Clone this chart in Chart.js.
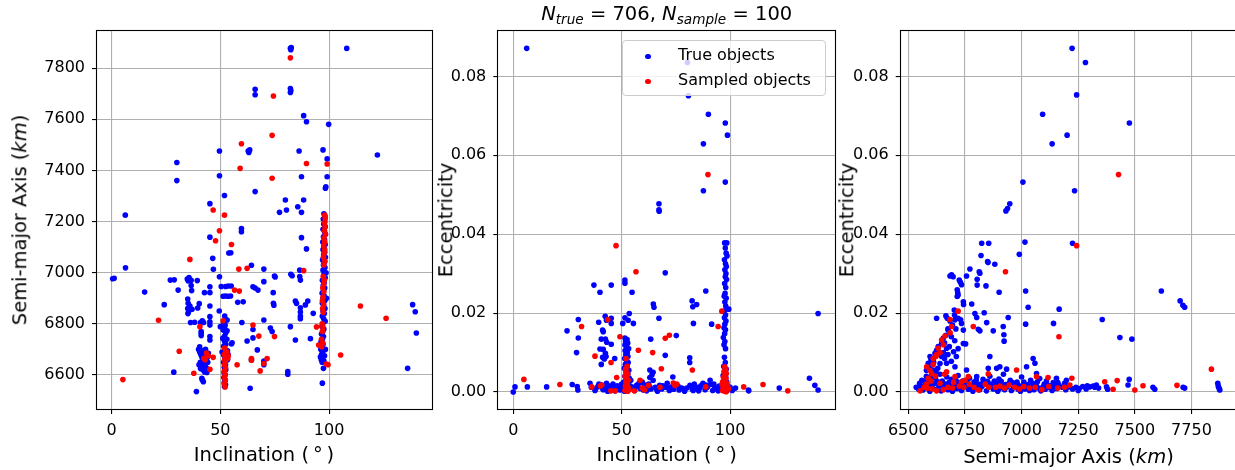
<!DOCTYPE html>
<html>
<head>
<meta charset="utf-8">
<script src="https://cdn.jsdelivr.net/npm/chart.js@4.4.1/dist/chart.umd.min.js"></script>
<style>
html, body { margin: 0; padding: 0; background: #fff; overflow: hidden; width: 1235px; height: 470px; }
body { position: relative; font-family: "DejaVu Sans", sans-serif; color: #000; }
canvas { position: absolute; top: 0; }
.lbl { position: absolute; white-space: nowrap; line-height: 1; font-size: 19.5px; transform: translate(-50%, -50%); }
.rot { transform: translate(-50%, -50%) rotate(-90deg); }
sub { font-size: 0.7em; vertical-align: -0.25em; line-height: 0; }
#legend { position: absolute; left: 622px; top: 40px; width: 204px; height: 56px; box-sizing: border-box;
  background: rgba(255,255,255,0.8); border: 1px solid #cccccc; border-radius: 4px; }
.ldot { position: absolute; width: 5.5px; height: 5.5px; border-radius: 50%; }
.ltxt { position: absolute; left: 55px; font-size: 16px; line-height: 1; transform: translateY(-50%); white-space: nowrap; }
</style>
</head>
<body>
<canvas id="c1" width="440" height="470" style="left:0"></canvas>
<canvas id="c2" width="400" height="470" style="left:440px"></canvas>
<canvas id="c3" width="400" height="470" style="left:840px"></canvas>

<div class="lbl" style="left:666.7px; top:13.5px;"><i>N</i><sub><i>true</i></sub> = 706, <i>N</i><sub><i>sample</i></sub> = 100</div>
<div class="lbl" style="left:264px; top:454.5px;">Inclination (&thinsp;&deg;&thinsp;)</div>
<div class="lbl" style="left:666.7px; top:454.5px;">Inclination (&thinsp;&deg;&thinsp;)</div>
<div class="lbl" style="left:1068.5px; top:456.5px;">Semi-major Axis (<i>km</i>)</div>
<div class="lbl rot" style="left:19.5px; top:220px;">Semi-major Axis (<i>km</i>)</div>
<div class="lbl rot" style="left:446px; top:220px;">Eccentricity</div>
<div class="lbl rot" style="left:847px; top:220px;">Eccentricity</div>
<div id="legend"></div>

<script>
// series
const seriesNames = ['True objects', 'Sampled objects'];
const seriesColors = ['#0000ff', '#ff0000'];

// tick labels
const incTicks = [0, 50, 100];
const semiTicks = [6600, 6800, 7000, 7200, 7400, 7600, 7800];
const semiTicksX = [6500, 6750, 7000, 7250, 7500, 7750];
const eccTicks = [0, 0.02, 0.04, 0.06, 0.08];

// panel 1: inclination (deg) vs semi-major axis (km)
const incSemiTrue = [
  [0.5,6976],[1.2,6978],[6.3,7225],[6.4,7019],[15.2,6924],[24.2,6875],[27.0,6971],[28.8,6972],[28.6,6611],[30.0,7431],[30.0,7360],[30.6,6932],
  [34.8,6975],[35.2,6968],[35.6,6981],[36.6,6970],[36.6,6950],[36.8,6930],[39.4,6969],
  [35.0,6897],[35.2,6880],[35.0,6860],[35.4,6847],[35.1,6840],[36.0,6870],[37.0,6857],[39.6,6862],[40.3,6879],
  [36.3,6805],[38.2,6806],[40.9,6805],[41.7,6812],[42.3,6805],[42.7,6922],
  [45.2,6945],[45.2,6922],[45.2,6870],[45.2,6828],[45.2,6808],[45.2,6795],[46.5,7056],[46.8,7013],[45.2,7139],[45.2,7270],
  [39.0,6535],[41.5,6587],[42.2,6574],[41.7,6580],[40.0,6700],[40.5,6690],[41.0,6680],[41.5,6670],[42.0,6660],[40.8,6650],
  [42.5,6645],[43.0,6640],[41.5,6630],[42.0,6620],[43.5,6655],[44.0,6668],[40.5,6710],[41.2,6770],[41.2,6763],[41.2,6754],
  [45.2,6750],[45.2,6737],[43.2,6700],[42.8,6612],[43.5,6628],[44.5,6685],[40.2,6640],[41.8,6695],[43.8,6610],[42.6,6685],
  [40.9,6625],[44.2,6650],
  [52.0,6830],[52.5,6815],[51.5,6805],[52.2,6795],[52.0,6785],[51.8,6775],[52.5,6765],[52.0,6752],[51.5,6745],[53.0,6740],
  [52.0,6730],[52.5,6720],[51.5,6712],[52.2,6700],[53.3,6695],[52.0,6688],[51.5,6678],[52.8,6670],[52.0,6660],[51.5,6650],
  [52.4,6640],[51.8,6630],[52.5,6620],[51.7,6610],[52.2,6600],[51.6,6590],[52.3,6580],[51.8,6570],[52.4,6562],[51.9,6555],
  [53.3,6660],[53.6,6680],[50.8,6690],
  [49.6,7476],[49.6,7379],[51.9,7302],[49.6,6984],[50.4,6946],[52.4,6946],[53.6,6948],[55.0,6948],[51.3,6908],[52.4,6909],
  [53.5,6908],[54.7,6909],[53.9,7077],[54.8,7078],[49.5,6850],[50.0,6789],[51.3,6776],[51.1,6743],[53.1,6815],[53.1,6773],
  [55.1,6721],[55.4,6726],
  [59.7,7173],[59.7,7160],[59.9,6805],[58.0,6884],[60.5,6886],[62.3,6733],[63.1,7470],[63.5,7480],[62.8,7476],[64.3,7029],
  [65.0,6945],[66.0,6940],[67.3,6932],[65.0,6778],[65.0,6745],[64.3,6659],[63.7,6548],[66.0,7717],[66.0,7696],[66.0,7317],
  [70.0,7014],[70.0,6965],[70.0,6815],[67.0,6698],[70.0,6654],[70.0,6640],[73.0,6784],[73.8,6770],[74.9,6987],[75.2,6983],
  [74.3,6922],[74.4,6880],[74.6,6873],
  [82.2,7877],[82.4,7872],[82.6,7880],[82.2,7720],[82.4,7712],[82.2,7705],[88.3,7614],[89.6,7590],[99.8,7580],[86.2,7476],
  [97.2,7480],[99.1,7445],[99.1,7375],[87.3,7375],[98.3,7330],[98.5,7336],[79.9,7284],[88.3,7284],[77.2,7236],[80.4,7245],
  [85.6,7258],[87.3,7236],[108.1,7877],[122.2,7460],[87.3,7137],[89.6,7093],[82.4,6994],[83.0,6988],[86.5,7010],[86.5,6985],
  [86.8,6971],[82.2,6789],[81.0,6613],[81.0,6603],[84.5,6889],[85.0,6880],[84.5,6737],[86.8,6863],[86.8,6846],[86.8,6830],
  [86.8,6820],[89.1,6874],[90.2,6889],[92.7,6841],[91.4,6742],[96.9,6568],[97.4,6626],[138.4,6875],[139.6,6847],[140.1,6764],
  [136.1,6626],
  [97.6,7230],[98.1,7220],[97.3,7210],[98.0,7200],[97.5,7190],[98.2,7180],[97.2,7170],[97.9,7160],[98.3,7150],[97.4,7140],
  [97.9,7130],[97.1,7120],[98.2,7110],[97.6,7100],[97.2,7090],[98.0,7080],[97.5,7070],[98.3,7060],[97.0,7050],[97.8,7040],
  [97.4,7030],[98.1,7020],[97.2,7010],[97.9,7000],[97.5,6990],[98.2,6980],[96.9,6970],[97.7,6960],[97.3,6950],[98.0,6940],
  [97.4,6930],[96.8,6920],[97.7,6910],[97.2,6900],[98.0,6890],[96.9,6880],[97.5,6870],[98.1,6860],[97.2,6850],[97.8,6840],
  [96.9,6830],[97.5,6820],[98.2,6810],[97.1,6800],[96.7,6790],[97.6,6780],[97.1,6770],[96.5,6760],[97.4,6750],[96.9,6740],
  [96.3,6730],[97.2,6720],[96.7,6710],[96.2,6700],[97.1,6690],[96.5,6680],[96.0,6670],[96.9,6665],[96.4,6660],[97.6,6655],
  [96.8,6650],[97.9,6675],[98.3,6700],[98.6,7000],[98.8,6900]
];
const incSemiSampled = [
  [82.2,7840],[74.4,7691],[73.8,7537],[59.7,7504],[59.1,7408],[73.8,7369],[89.6,7427],[99.1,7425],[46.7,7245],[51.9,7225],
  [49.6,7164],[47.8,7125],[55.1,7110],[36.0,7052],[58.5,7014],[62.3,7017],[88.3,7008],[56.5,6932],[58.7,6928],[5.2,6582],
  [21.6,6814],[31.1,6693],[37.8,6607],[40.6,6789],[43.6,6686],[44.5,6675],[45.2,6622],[46.7,6669],[51.3,6812],[57.7,6640],
  [64.3,6664],[64.3,6658],[65.0,6795],[67.7,6752],[68.3,6616],[71.5,6664],[70.0,6645],[74.9,6750],[94.2,6788],[95.2,6717],
  [98.8,6643],[99.5,6640],[105.3,6678],[114.4,6870],[126.2,6822],[43.0,6660],[42.5,6665],
  [98.0,7225],[98.2,7212],[97.9,7195],[98.1,7180],[97.8,7165],[98.3,7150],[97.6,7135],[98.0,7120],[97.5,7105],[98.0,7090],
  [97.7,7075],[97.4,7060],[98.1,7045],[97.6,7030],[97.3,6985],[97.8,6970],[97.5,6955],[97.1,6940],[97.6,6925],[97.2,6905],
  [96.9,6890],[97.5,6875],[97.0,6860],[97.3,6845],[96.8,6800],[97.2,6785],[96.9,6770],[96.5,6740],[97.1,6725],[96.6,6710],
  [52.0,6705],[52.5,6690],[51.8,6680],[52.6,6670],[52.0,6660],[53.4,6665],[53.6,6675],[52.3,6650],[51.9,6640],[52.4,6628],
  [51.8,6615],[52.2,6602],[51.9,6590],[52.3,6578],[51.8,6566],[52.2,6553],[53.0,6690]
];

// panel 2: inclination (deg) vs eccentricity
const incEccTrue = [
  [6.2,0.0871],[80.3,0.0835],[80.8,0.0751],[90.0,0.0704],[97.8,0.0682],[98.8,0.0651],[87.7,0.0629],[97.8,0.0532],[87.7,0.0510],
  [67.2,0.0477],[67.2,0.0462],[67.3,0.0458],
  [24.8,0.0155],[30.0,0.0184],[30.0,0.0137],[29.2,0.0100],[37.2,0.0271],[40.0,0.0253],[45.2,0.0271],[39.4,0.0177],[42.4,0.0192],
  [43.0,0.0182],[45.2,0.0187],[45.2,0.0174],[41.2,0.0157],[41.5,0.0153],[40.6,0.0134],[42.5,0.0134],[43.1,0.0126],[45.2,0.0121],
  [40.0,0.0109],[41.5,0.0108],[42.5,0.0098],[42.8,0.0090],[41.2,0.0088],[42.0,0.0084],[40.6,0.0070],[46.8,0.0085],[51.5,0.0284],
  [51.5,0.0276],[54.8,0.0253],[53.5,0.0199],[51.5,0.0188],[53.0,0.0182],[55.4,0.0174],[50.5,0.0174],[64.6,0.0223],[64.9,0.0215],
  [67.2,0.0187],[70.1,0.0302],[63.4,0.0134],[70.1,0.0093],[75.2,0.0143],[63.0,0.0056],[64.5,0.0050],[64.0,0.0044],[63.0,0.0037],
  [73.6,0.0038],[82.5,0.0231],[82.8,0.0216],[84.6,0.0222],[83.1,0.0174],[88.8,0.0256],[91.5,0.0172],[81.4,0.0087],[81.4,0.0075],
  [99.4,0.0210],[140.6,0.0199],[136.6,0.0035],[139.1,0.0017],[140.6,0.0005],[122.7,0.0010],[108.6,0.0003],[90.8,0.0030],
  [0.0,0.0000],[0.8,0.0013],[6.5,0.0013],[15.4,0.0013],[27.2,0.0019],[29.5,0.0014],[29.8,0.0005],[35.4,0.0022],[36.0,0.0012],
  [37.7,0.0004],[39.0,0.0014],[40.8,0.0018],[41.5,0.0006],[42.5,0.0010],[43.5,0.0002],[44.0,0.0016],[45.0,0.0008],[46.2,0.0012],
  [47.0,0.0003],[48.0,0.0016],[49.2,0.0005],[50.0,0.0020],[55.0,0.0012],[56.0,0.0004],[57.0,0.0018],[58.5,0.0009],[59.5,0.0025],
  [60.5,0.0014],[61.5,0.0003],[62.5,0.0020],[63.5,0.0008],[64.5,0.0030],[65.5,0.0012],[66.5,0.0002],[67.5,0.0017],[68.5,0.0008],
  [70.0,0.0012],[71.0,0.0022],[72.0,0.0004],[73.1,0.0013],[74.0,0.0007],[75.0,0.0019],[76.5,0.0005],[77.7,0.0010],[79.0,0.0002],
  [81.5,0.0017],[82.5,0.0008],[83.5,0.0020],[84.5,0.0012],[85.5,0.0003],[86.5,0.0016],[87.5,0.0022],[88.5,0.0006],[89.5,0.0012],
  [91.0,0.0019],[92.0,0.0004],[93.0,0.0012],[94.0,0.0008],[95.0,0.0015],[100.0,0.0012],[101.0,0.0004],[102.5,0.0010],[108.5,0.0005],
  [38.0,0.0008],[39.5,0.0020],[41.0,0.0010],[43.0,0.0022],[44.5,0.0004],[46.0,0.0020],[48.5,0.0010],[56.5,0.0014],[58.0,0.0022],
  [60.0,0.0005],[61.0,0.0018],[63.0,0.0012],[66.0,0.0008],[69.0,0.0016],[71.5,0.0010],[76.0,0.0015],[80.0,0.0010],[83.0,0.0004],
  [86.0,0.0010],[89.0,0.0018],[92.5,0.0020],[94.5,0.0003],
  [51.5,0.0137],[52.5,0.0133],[51.8,0.0128],[52.8,0.0124],[51.5,0.0119],[52.4,0.0114],[53.2,0.0110],[51.6,0.0105],[52.6,0.0100],
  [51.9,0.0095],[52.9,0.0090],[51.4,0.0085],[52.3,0.0080],[53.0,0.0075],[51.7,0.0070],[52.5,0.0065],[51.2,0.0060],[53.3,0.0055],
  [52.0,0.0050],[52.8,0.0045],[51.5,0.0040],[53.5,0.0035],[52.2,0.0030],[51.0,0.0025],[53.1,0.0020],[52.4,0.0015],[51.6,0.0010],
  [53.6,0.0008],[52.5,0.0004],[51.3,0.0002],[54.0,0.0015],[50.6,0.0012],[54.2,0.0030],
  [97.5,0.0378],[98.5,0.0378],[97.8,0.0365],[98.2,0.0352],[98.6,0.0345],[97.4,0.0335],[97.9,0.0325],[98.3,0.0318],[97.6,0.0310],
  [98.1,0.0300],[97.8,0.0292],[98.4,0.0285],[97.5,0.0275],[98.0,0.0265],[97.7,0.0250],[97.3,0.0243],[98.2,0.0238],[97.6,0.0228],
  [98.0,0.0218],[97.5,0.0206],[97.9,0.0195],[97.4,0.0188],[98.1,0.0180],[97.6,0.0172],[97.2,0.0163],[97.9,0.0158],[97.5,0.0148],
  [96.9,0.0138],[97.6,0.0128],[97.2,0.0120],[97.9,0.0110],[97.4,0.0088],[97.8,0.0075],[97.1,0.0065],[98.2,0.0058],[97.5,0.0050],
  [96.8,0.0042],[98.0,0.0038],[97.3,0.0030],[98.5,0.0025],[96.6,0.0020],[97.8,0.0015],[99.0,0.0010],[96.2,0.0008],[98.7,0.0004],
  [99.5,0.0012]
];
const incEccSampled = [
  [4.9,0.0032],[21.5,0.0019],[31.5,0.0166],[37.7,0.0091],[43.6,0.0184],[45.1,0.0075],[47.4,0.0371],[49.2,0.0140],[56.6,0.0305],
  [57.7,0.0106],[64.3,0.0100],[68.3,0.0059],[70.1,0.0136],[72.0,0.0144],[82.6,0.0056],[94.5,0.0166],[96.2,0.0205],[106.3,0.0013],
  [115.2,0.0019],[126.6,0.0003],[89.8,0.0551],[47.7,0.0037],[36.2,0.0013],[40.8,0.0018],[45.0,0.0003],[47.0,0.0003],[58.5,0.0030],
  [59.5,0.0010],[60.5,0.0005],[62.3,0.0017],[67.7,0.0012],[73.8,0.0023],[74.5,0.0017],[75.4,0.0020],[88.8,0.0013],[40.2,0.0015],
  [55.8,0.0003],
  [52.0,0.0085],[52.5,0.0065],[51.8,0.0058],[52.3,0.0050],[52.8,0.0045],[51.6,0.0040],[52.4,0.0034],[53.0,0.0030],[52.0,0.0025],
  [52.6,0.0020],[51.7,0.0015],[53.0,0.0012],[52.2,0.0008],[51.5,0.0004],[52.8,0.0002],[53.4,0.0006],
  [97.5,0.0064],[98.0,0.0058],[97.2,0.0052],[98.3,0.0047],[97.6,0.0042],[96.9,0.0038],[98.1,0.0034],[97.4,0.0030],[96.6,0.0026],
  [98.4,0.0022],[97.7,0.0019],[96.8,0.0015],[97.9,0.0012],[97.2,0.0009],[98.6,0.0006],[96.5,0.0004],[97.6,0.0002],[98.2,0.0001],
  [96.9,0.0011],[98.8,0.0016],[99.3,0.0008],[96.3,0.0020]
];

// panel 3: semi-major axis (km) vs eccentricity
const semiEccTrue = [
  [7223,0.0871],[7282,0.0835],[7243,0.0753],[7093,0.0704],[7476,0.0682],[7201,0.0651],[7135,0.0629],[7006,0.0532],[7234,0.0510],
  [6948,0.0477],[6938,0.0465],[6931,0.0459],
  [6824,0.0377],[6855,0.0377],[7015,0.0380],[7225,0.0377],[6990,0.0349],[6821,0.0346],[6850,0.0331],[6852,0.0328],[6882,0.0324],
  [6772,0.0312],[6684,0.0294],[6691,0.0297],[6698,0.0292],[6813,0.0305],[6816,0.0301],[6757,0.0294],[6804,0.0286],[6804,0.0271],
  [6843,0.0269],[6725,0.0284],[6730,0.0278],[6735,0.0272],[6716,0.0259],[6718,0.0252],[6720,0.0246],[6716,0.0242],[6901,0.0253],
  [7018,0.0256],[7617,0.0256],[6743,0.0229],[6744,0.0222],[6780,0.0223],[7029,0.0215],[7166,0.0210],[7700,0.0231],[7712,0.0220],
  [7720,0.0215],[6625,0.0187],[6666,0.0193],[6672,0.0187],[6684,0.0180],[6703,0.0208],[6704,0.0195],[6706,0.0183],[6720,0.0187],
  [6731,0.0183],[6794,0.0199],[6802,0.0189],[6835,0.0201],[6846,0.0176],[6941,0.0189],[6919,0.0166],[6922,0.0145],[6923,0.0129],
  [7018,0.0172],[7141,0.0174],[7356,0.0184],[7434,0.0138],[7487,0.0134],[6809,0.0159],[6816,0.0155],[6875,0.0155],[6743,0.0123],
  [6753,0.0122],
  [6735,0.0174],[6743,0.0157],[6676,0.0157],[6666,0.0144],[6654,0.0136],[6647,0.0123],[6632,0.0115],[6625,0.0106],[6618,0.0098],
  [6596,0.0090],[6588,0.0073],[6610,0.0081],[6647,0.0090],[6662,0.0094],[6669,0.0111],[6681,0.0115],[6610,0.0056],[6603,0.0039],
  [6622,0.0051],[6669,0.0073],[6706,0.0064],[6757,0.0056],[6802,0.0039],[6860,0.0090],[6853,0.0060],[6890,0.0060],[6904,0.0064],
  [6934,0.0058],[7022,0.0064],[7051,0.0085],[7059,0.0073],[7066,0.0047],[7154,0.0035],[7198,0.0030],
  [6580,0.0055],[6595,0.0065],[6600,0.0082],[6612,0.0075],[6630,0.0060],[6640,0.0072],[6655,0.0100],[6660,0.0085],[6675,0.0095],
  [6690,0.0078],[6700,0.0102],[6712,0.0090],[6720,0.0110],[6705,0.0130],[6690,0.0140],[6675,0.0160],[6695,0.0170],[6710,0.0160],
  [6660,0.0125],
  [6560,0.0030],[6580,0.0040],[6590,0.0025],[6620,0.0035],[6640,0.0045],[6650,0.0028],[6670,0.0038],[6690,0.0032],[6720,0.0042],
  [6740,0.0028],[6770,0.0035],[6790,0.0025],[6830,0.0032],[6860,0.0040],[6880,0.0028],[6900,0.0033],[6920,0.0045],[6950,0.0030],
  [6980,0.0025],[7000,0.0038],[7040,0.0030],[7080,0.0034],[7110,0.0028],[7140,0.0024],[7190,0.0022],
  [6550,0.0022],[6570,0.0028],[6600,0.0018],[6630,0.0026],[6660,0.0015],[6680,0.0024],[6710,0.0030],[6730,0.0016],[6760,0.0026],
  [6780,0.0009],[6800,0.0030],[6820,0.0020],[6850,0.0027],[6870,0.0015],[6890,0.0022],[6910,0.0027],[6930,0.0019],[6960,0.0024],
  [6990,0.0016],[7010,0.0025],[7030,0.0015],[7050,0.0022],[7070,0.0026],[7100,0.0020],[7130,0.0016],[7160,0.0024],[7200,0.0018],
  [7250,0.0004],[7290,0.0016],[7340,0.0010],
  [6535,0.0012],[6545,0.0008],[6555,0.0015],[6565,0.0005],[6575,0.0018],[6585,0.0010],[6595,0.0002],[6605,0.0014],[6615,0.0022],
  [6625,0.0007],[6635,0.0016],[6645,0.0003],[6655,0.0011],[6665,0.0020],[6675,0.0006],[6685,0.0014],[6695,0.0002],[6705,0.0018],
  [6715,0.0009],[6725,0.0024],[6735,0.0004],[6745,0.0013],[6755,0.0020],[6765,0.0007],[6775,0.0015],[6785,0.0002],[6795,0.0011],
  [6805,0.0019],[6815,0.0006],[6825,0.0014],[6835,0.0024],[6845,0.0003],[6855,0.0012],[6865,0.0020],[6875,0.0008],[6885,0.0016],
  [6895,0.0002],[6905,0.0010],[6915,0.0018],[6925,0.0006],[6935,0.0013],[6945,0.0022],[6955,0.0004],[6965,0.0011],[6975,0.0017],
  [6985,0.0007],[6995,0.0002],[7005,0.0014],[7015,0.0008],[7025,0.0019],[7035,0.0004],[7045,0.0012],[7055,0.0006],[7065,0.0016],
  [7075,0.0010],[7085,0.0003],[7095,0.0013],[7105,0.0007],[7115,0.0018],[7125,0.0011],[7135,0.0004],[7145,0.0014],[7155,0.0009],
  [7165,0.0017],[7180,0.0012],[7195,0.0006],[7210,0.0013],[7225,0.0008],[7240,0.0012],[7255,0.0009],[7270,0.0014],[7285,0.0008],
  [7300,0.0013],[7316,0.0015],[7323,0.0012],[7330,0.0018],[7375,0.0013],[7380,0.0007],[7470,0.0018],[7475,0.0032],[7580,0.0012],
  [7588,0.0007],[7713,0.0012],[7720,0.0010],[7866,0.0022],[7868,0.0016],[7870,0.0012],[7873,0.0008],[7875,0.0005]
];
const semiEccSampled = [
  [7428,0.0551],[7243,0.0371],[6929,0.0305],[6720,0.0205],[6787,0.0166],[7165,0.0140],[7838,0.0058],[7686,0.0017],[7536,0.0016],
  [7500,0.0005],[7422,0.0029],[7367,0.0026],[7404,0.0007],[7222,0.0035],[7213,0.0018],
  [6684,0.0184],[6691,0.0166],[6662,0.0142],[6647,0.0132],[6632,0.0111],[6622,0.0090],[6581,0.0064],[6610,0.0085],[6603,0.0047],
  [6588,0.0035],[6669,0.0051],[6706,0.0039],[6735,0.0026],[6765,0.0039],[6853,0.0046],[6978,0.0056],[7066,0.0039],[7117,0.0037],
  [6552,0.0003],[6570,0.0012],[6585,0.0010],[6605,0.0008],[6625,0.0003],[6655,0.0006],[6675,0.0012],[6695,0.0010],[6725,0.0015],
  [6745,0.0012],[6770,0.0020],[6790,0.0012],[6810,0.0005],[6840,0.0020],[6855,0.0012],[6885,0.0012],[6905,0.0015],[6925,0.0010],
  [6945,0.0018],[6970,0.0012],[6990,0.0008],[7010,0.0014],[7035,0.0010],[7060,0.0012],[7090,0.0006],[7120,0.0014],[7160,0.0010],
  [7190,0.0012],[6580,0.0020],[6600,0.0028],[6640,0.0022],[6700,0.0025],[6750,0.0030],[6620,0.0040],[6660,0.0045],[6595,0.0055],
  [6610,0.0070],[6640,0.0100],[6655,0.0120],[6625,0.0095],[6685,0.0150]
];

Chart.defaults.font.family = '"DejaVu Sans", sans-serif';
Chart.defaults.color = '#000';

const toXY = arr => arr.map(p => ({ x: p[0], y: p[1] }));

const framePlugin = {
  id: 'frame',
  afterDraw(chart) {
    const a = chart.chartArea, ctx = chart.ctx;
    ctx.save();
    ctx.strokeStyle = '#000';
    ctx.lineWidth = 1.1;
    ctx.strokeRect(Math.round(a.left) - 0.5, Math.round(a.top) - 0.5,
      Math.round(a.right) - Math.round(a.left) + 1, Math.round(a.bottom) - Math.round(a.top) + 1);
    ctx.restore();
  }
};

function axis(min, max, ticks, fmt, fitFn) {
  return {
    type: 'linear', min: min, max: max,
    border: { display: false },
    grid: { color: '#b0b0b0', lineWidth: 1.1, tickColor: '#000', tickLength: 5, drawTicks: true },
    ticks: { font: { size: 16 }, color: '#000', padding: 7, autoSkip: false, maxRotation: 0, callback: fmt },
    afterBuildTicks: s => { s.ticks = ticks.map(v => ({ value: v })); },
    afterFit: fitFn
  };
}

function panel(id, trueData, sampledData, xAxis, yAxis, padRight) {
  new Chart(document.getElementById(id), {
    type: 'scatter',
    data: {
      datasets: [
        { label: seriesNames[0], data: toXY(trueData), backgroundColor: seriesColors[0], borderWidth: 0, pointRadius: 2.8, order: 1 },
        { label: seriesNames[1], data: toXY(sampledData), backgroundColor: seriesColors[1], borderWidth: 0, pointRadius: 2.8, order: 0 }
      ]
    },
    options: {
      responsive: false, animation: false, devicePixelRatio: 1,
      layout: { padding: { top: 31, right: padRight, left: 0, bottom: 0 } },
      plugins: { legend: { display: false }, tooltip: { enabled: false } },
      scales: { x: xAxis, y: yAxis }
    },
    plugins: [framePlugin]
  });
}

const plain = v => String(v);
const twoDp = v => v.toFixed(2);

panel('c1', incSemiTrue, incSemiSampled,
  axis(-6.7, 147.3, incTicks, plain, s => { s.height = 61; }),
  axis(6467, 7945, semiTicks, plain, s => { s.width = 97; }), 8);
panel('c2', incEccTrue, incEccSampled,
  axis(-6.9, 148.4, incTicks, plain, s => { s.height = 61; }),
  axis(-0.0043, 0.0915, eccTicks, twoDp, s => { s.width = 58.3; }), 5);
panel('c3', semiEccTrue, semiEccSampled,
  axis(6466.5, 7946.5, semiTicksX, plain, s => { s.height = 61; }),
  axis(-0.0043, 0.0915, eccTicks, twoDp, s => { s.width = 60.7; }), 4);

// legend
const legend = document.getElementById('legend');
seriesNames.forEach((name, i) => {
  const cy = [15.5, 40.7][i];
  const dot = document.createElement('div');
  dot.className = 'ldot';
  dot.style.background = seriesColors[i];
  dot.style.left = '22px';
  dot.style.top = (cy - 2.75) + 'px';
  legend.appendChild(dot);
  const t = document.createElement('div');
  t.className = 'ltxt';
  t.style.top = (cy - 1.5) + 'px';
  t.textContent = name;
  legend.appendChild(t);
});
</script>
</body>
</html>
